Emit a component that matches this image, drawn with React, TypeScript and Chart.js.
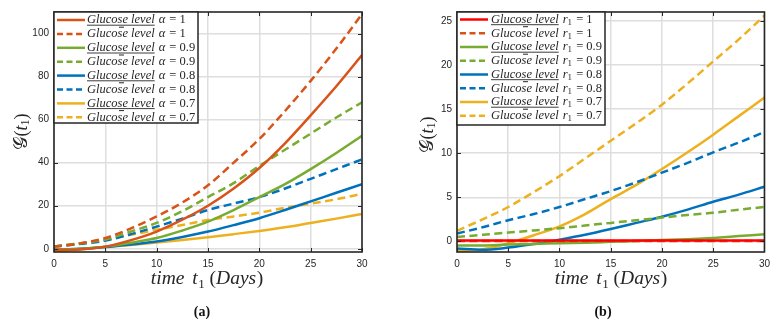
import React, { useEffect, useRef } from "react";
import { Chart, registerables } from "chart.js";
Chart.register(...registerables);

// ---------- data ----------
const days = [0, 2.5, 5, 7.5, 10, 12.5, 15, 17.5, 20, 22.5, 25, 27.5, 30];
const xTickValues = [0, 5, 10, 15, 20, 25, 30];
const yTickValuesA = [0, 20, 40, 60, 80, 100];
const yTickValuesB = [0, 5, 10, 15, 20, 25];
const orderLabels = ["1", "1", "0.9", "0.9", "0.8", "0.8", "0.7", "0.7"];

// panel (a): fractional order alpha
const aAlpha1Solid = [-0.5, -0.3, 1, 4, 8, 13.5, 20, 28, 37.5, 49, 62, 75.5, 90];
const aAlpha1Dash = [1, 2.5, 5, 9.5, 15, 21.5, 29.5, 40, 51, 64, 78, 93, 109];
const aAlpha09Solid = [-0.5, 0, 1, 2.8, 5, 8.5, 12.6, 18, 24, 30, 37, 44.5, 52.5];
const aAlpha09Dash = [1, 2.5, 4.3, 8, 12, 17.5, 24, 30.5, 38.5, 46, 53.5, 61, 68];
const aAlpha08Solid = [-0.5, 0, 0.8, 2, 3.4, 5.5, 8, 11, 14.2, 18, 22, 26, 30];
const aAlpha08Dash = [1, 2.2, 3.8, 6.8, 10.3, 14, 18, 21, 24, 28, 32.5, 37, 41.5];
const aAlpha07Solid = [-1.2, -0.3, 0.8, 1.8, 2.9, 4.1, 5.4, 6.8, 8.3, 10, 12, 14, 16.2];
const aAlpha07Dash = [1, 2.5, 4.2, 6.5, 8.8, 11, 13.4, 15, 16.8, 19, 21, 23, 25.5];

// panel (b): parameter r1
const bR1Solid = [0.1, 0.1, 0.1, 0.1, 0.1, 0.1, 0.1, 0.1, 0.1, 0.1, 0.1, 0.1, 0.1];
const bR1Dash = [0.05, 0.05, 0.05, 0.05, 0.05, 0.05, 0.05, 0.05, 0.05, 0.05, 0.05, 0.05, 0.05];
const bR09Solid = [-0.45, -0.45, -0.35, -0.3, -0.2, -0.15, -0.05, 0.05, 0.15, 0.25, 0.4, 0.6, 0.8];
const bR09Dash = [0.5, 0.75, 1.0, 1.25, 1.5, 1.8, 2.1, 2.4, 2.7, 3.0, 3.25, 3.6, 3.9];
const bR08Solid = [-0.8, -0.95, -0.7, -0.3, 0.2, 0.75, 1.4, 2.1, 2.8, 3.6, 4.5, 5.3, 6.2];
const bR08Dash = [0.9, 1.6, 2.4, 3.1, 3.9, 4.8, 5.7, 6.7, 7.8, 8.9, 10.1, 11.2, 12.4];
const bR07Solid = [-1.1, -0.9, -0.2, 0.7, 1.7, 3.1, 4.8, 6.4, 8.2, 10.1, 12.1, 14.2, 16.3];
const bR07Dash = [1.2, 2.5, 3.9, 5.6, 7.4, 9.4, 11.4, 13.4, 15.5, 17.9, 20.4, 22.9, 25.6];

const ORANGE = "#D95319";
const RED = "#FF0000";
const GREEN = "#77AC30";
const BLUE = "#0072BD";
const YELLOW = "#EDB120";
const INK = "#262626";

const seriesA = [
  { values: aAlpha1Solid, color: ORANGE, dashed: false },
  { values: aAlpha1Dash, color: ORANGE, dashed: true },
  { values: aAlpha09Solid, color: GREEN, dashed: false },
  { values: aAlpha09Dash, color: GREEN, dashed: true },
  { values: aAlpha08Solid, color: BLUE, dashed: false },
  { values: aAlpha08Dash, color: BLUE, dashed: true },
  { values: aAlpha07Solid, color: YELLOW, dashed: false },
  { values: aAlpha07Dash, color: YELLOW, dashed: true },
];
const seriesB = [
  { values: bR1Solid, color: RED, dashed: false },
  { values: bR1Dash, color: ORANGE, dashed: true },
  { values: bR09Solid, color: GREEN, dashed: false },
  { values: bR09Dash, color: GREEN, dashed: true },
  { values: bR08Solid, color: BLUE, dashed: false },
  { values: bR08Dash, color: BLUE, dashed: true },
  { values: bR07Solid, color: YELLOW, dashed: false },
  { values: bR07Dash, color: YELLOW, dashed: true },
];

const SERIF = '"Liberation Serif", "DejaVu Serif", serif';
const SANS = '"Liberation Sans", Arial, sans-serif';

type PanelCfg = {
  left: number;
  series: typeof seriesA;
  yMin: number;
  yMax: number;
  yTicks: number[];
  param: "alpha" | "r1";
  padLeft: number;
  padRight: number;
  legend: { x: number; y: number; w: number; h: number; row0: number; rowStep: number; lineX0: number; lineX1: number; textX: number };
  yTitle: { x: number; y: number };
  xTitleX: number;
  subLabel: string;
  subLabelX: number;
};

function drawXTitle(ctx: CanvasRenderingContext2D, cx: number, cy: number) {
  const parts = [
    { t: "time ", f: `italic 19.5px ${SERIF}`, dy: 0, gap: 3 },
    { t: "t", f: `italic 19.5px ${SERIF}`, dy: 0, gap: 0.5 },
    { t: "1", f: `13px ${SERIF}`, dy: 4, gap: 0 },
    { t: " (", f: `19.5px ${SERIF}`, dy: 0, gap: 0 },
    { t: "Days", f: `italic 19.5px ${SERIF}`, dy: 0, gap: 0.5 },
    { t: ")", f: `19.5px ${SERIF}`, dy: 0, gap: 0 },
  ];
  let total = 0;
  for (const p of parts) {
    ctx.font = p.f;
    total += ctx.measureText(p.t).width + p.gap;
  }
  let x = cx - total / 2;
  ctx.fillStyle = INK;
  ctx.textBaseline = "alphabetic";
  ctx.textAlign = "left";
  for (const p of parts) {
    ctx.font = p.f;
    ctx.fillText(p.t, x, cy + p.dy);
    x += ctx.measureText(p.t).width + p.gap;
  }
}

function drawYTitle(ctx: CanvasRenderingContext2D, cx: number, cy: number) {
  ctx.save();
  ctx.translate(cx, cy);
  ctx.rotate(-Math.PI / 2);
  const parts = [
    { t: "\u{1D4A2}", f: `19px "DejaVu Sans", "Noto Sans", ${SERIF}`, dy: 0 },
    { t: "(", f: `18px ${SERIF}`, dy: 0 },
    { t: "t", f: `italic 18px ${SERIF}`, dy: 0 },
    { t: "1", f: `12px ${SERIF}`, dy: 4 },
    { t: ")", f: `18px ${SERIF}`, dy: 0 },
  ];
  let total = 0;
  for (const p of parts) {
    ctx.font = p.f;
    total += ctx.measureText(p.t).width;
  }
  let x = -total / 2;
  ctx.fillStyle = INK;
  ctx.textBaseline = "middle";
  ctx.textAlign = "left";
  for (const p of parts) {
    ctx.font = p.f;
    ctx.fillText(p.t, x, p.dy);
    x += ctx.measureText(p.t).width;
  }
  ctx.restore();
}

function drawLegend(ctx: CanvasRenderingContext2D, cfg: PanelCfg) {
  const L = cfg.legend;
  ctx.save();
  ctx.fillStyle = "#ffffff";
  ctx.fillRect(L.x, L.y, L.w, L.h);
  ctx.strokeStyle = INK;
  ctx.lineWidth = 1.5;
  ctx.strokeRect(L.x, L.y, L.w, L.h);
  cfg.series.forEach((s, i) => {
    const yc = L.row0 + i * L.rowStep;
    ctx.strokeStyle = s.color;
    ctx.lineWidth = 2.5;
    ctx.setLineDash(s.dashed ? [6, 3.5] : []);
    ctx.beginPath();
    ctx.moveTo(L.lineX0, yc);
    ctx.lineTo(L.lineX1, yc);
    ctx.stroke();
    ctx.setLineDash([]);

    ctx.fillStyle = INK;
    ctx.textBaseline = "middle";
    ctx.textAlign = "left";
    let x = L.textX;
    ctx.font = `italic 12.5px ${SERIF}`;
    const word = "Glucose level";
    ctx.fillText(word, x, yc);
    const ww = ctx.measureText(word).width;
    if (!s.dashed) {
      ctx.strokeStyle = INK;
      ctx.lineWidth = 0.9;
      ctx.beginPath();
      ctx.moveTo(x, yc + 5.2);
      ctx.lineTo(x + ww, yc + 5.2);
      ctx.stroke();
      ctx.lineWidth = 1;
      ctx.beginPath();
      ctx.moveTo(x + 32, yc + 7.2);
      ctx.lineTo(x + 37, yc + 7.2);
      ctx.stroke();
    }
    x += ww + 4;
    if (cfg.param === "alpha") {
      ctx.font = `italic 12.5px ${SERIF}`;
      ctx.fillText("\u03B1", x, yc);
      x += ctx.measureText("\u03B1").width;
    } else {
      ctx.font = `italic 12.5px ${SERIF}`;
      ctx.fillText("r", x, yc);
      x += ctx.measureText("r").width;
      ctx.font = `9px ${SERIF}`;
      ctx.fillText("1", x, yc + 3);
      x += ctx.measureText("1").width;
    }
    ctx.font = `12.5px ${SERIF}`;
    ctx.fillText(" = " + orderLabels[i], x + 1, yc);
  });
  ctx.restore();
}

function makeFramePlugin(cfg: PanelCfg) {
  return {
    id: "frame" + cfg.param,
    afterDatasetsDraw(chart: any) {
      const ctx: CanvasRenderingContext2D = chart.ctx;
      const a = chart.chartArea;
      const xs = chart.scales.x;
      const ys = chart.scales.y;
      ctx.save();
      ctx.strokeStyle = INK;
      ctx.lineWidth = 1;
      ctx.beginPath();
      for (const v of xTickValues) {
        const px = Math.round(xs.getPixelForValue(v)) + 0.5;
        ctx.moveTo(px, a.bottom);
        ctx.lineTo(px, a.bottom - 4);
        ctx.moveTo(px, a.top);
        ctx.lineTo(px, a.top + 4);
      }
      for (const v of cfg.yTicks) {
        const py = Math.round(ys.getPixelForValue(v)) + 0.5;
        ctx.moveTo(a.left, py);
        ctx.lineTo(a.left + 4, py);
        ctx.moveTo(a.right, py);
        ctx.lineTo(a.right - 4, py);
      }
      ctx.stroke();
      ctx.lineWidth = 1.6;
      ctx.strokeRect(a.left, a.top, a.right - a.left, a.bottom - a.top);
      ctx.restore();
    },
    afterDraw(chart: any) {
      const ctx: CanvasRenderingContext2D = chart.ctx;
      drawLegend(ctx, cfg);
      drawXTitle(ctx, cfg.xTitleX, 284);
      drawYTitle(ctx, cfg.yTitle.x, cfg.yTitle.y);
      ctx.save();
      ctx.fillStyle = "#111";
      ctx.font = `bold 14px ${SERIF}`;
      ctx.textAlign = "center";
      ctx.textBaseline = "middle";
      ctx.fillText(cfg.subLabel, cfg.subLabelX, 312);
      ctx.restore();
    },
  };
}

function buildConfig(cfg: PanelCfg): any {
  return {
    type: "line",
    data: {
      datasets: cfg.series.map((s, i) => ({
        label: "Glucose level " + orderLabels[i],
        data: days.map((d, j) => ({ x: d, y: s.values[j] })),
        borderColor: s.color,
        backgroundColor: s.color,
        borderWidth: 2.5,
        borderDash: s.dashed ? [8, 4.5] : [],
        pointRadius: 0,
        cubicInterpolationMode: "monotone",
        fill: false,
      })),
    },
    options: {
      animation: false,
      responsive: false,
      devicePixelRatio: 1,
      layout: { padding: { left: 0, right: cfg.padRight, top: 12, bottom: 0 } },
      plugins: { legend: { display: false }, tooltip: { enabled: false } },
      scales: {
        x: {
          type: "linear",
          min: 0,
          max: 30,
          afterBuildTicks: (s: any) => {
            s.ticks = xTickValues.map((v) => ({ value: v }));
          },
          afterFit: (s: any) => {
            s.height = 70;
          },
          grid: { color: "#dedede", lineWidth: 1.5, drawTicks: false },
          border: { display: false },
          ticks: {
            autoSkip: false,
            maxRotation: 0,
            padding: 6,
            color: INK,
            font: { family: SANS, size: 10 },
          },
        },
        y: {
          type: "linear",
          min: cfg.yMin,
          max: cfg.yMax,
          afterBuildTicks: (s: any) => {
            s.ticks = cfg.yTicks.map((v) => ({ value: v }));
          },
          afterFit: (s: any) => {
            s.width = cfg.padLeft;
          },
          grid: { color: "#dedede", lineWidth: 1.5, drawTicks: false },
          border: { display: false },
          ticks: {
            autoSkip: false,
            padding: 5,
            color: INK,
            font: { family: SANS, size: 10 },
          },
        },
      },
    },
    plugins: [makeFramePlugin(cfg)],
  };
}

const cfgA: PanelCfg = {
  left: 0,
  series: seriesA,
  yMin: -1.5,
  yMax: 110,
  yTicks: yTickValuesA,
  param: "alpha",
  padLeft: 54,
  padRight: 388 - 362,
  legend: { x: 54, y: 12, w: 144, h: 111, row0: 20, rowStep: 13.9, lineX0: 57, lineX1: 85, textX: 87 },
  yTitle: { x: 22, y: 132 },
  xTitleX: 207,
  subLabel: "(a)",
  subLabelX: 202,
};

const cfgB: PanelCfg = {
  left: 388,
  series: seriesB,
  yMin: -1.2,
  yMax: 26,
  yTicks: yTickValuesB,
  param: "r1",
  padLeft: 69,
  padRight: 388 - 377,
  legend: { x: 69, y: 12, w: 148, h: 113, row0: 19.5, rowStep: 13.75, lineX0: 72, lineX1: 100, textX: 103 },
  yTitle: { x: 40, y: 135 },
  xTitleX: 223,
  subLabel: "(b)",
  subLabelX: 215,
};

function Panel({ cfg }: { cfg: PanelCfg }) {
  const ref = useRef<HTMLCanvasElement>(null);
  useEffect(() => {
    if (!ref.current) return;
    const chart = new Chart(ref.current, buildConfig(cfg));
    return () => chart.destroy();
  }, []);
  return (
    <canvas
      ref={ref}
      width={388}
      height={322}
      style={{ position: "absolute", left: cfg.left, top: 0, width: 388, height: 322 }}
    />
  );
}

export default function App() {
  return (
    <div style={{ position: "fixed", left: 0, top: 0, width: 776, height: 322, background: "#ffffff" }}>
      <Panel cfg={cfgA} />
      <Panel cfg={cfgB} />
    </div>
  );
}
